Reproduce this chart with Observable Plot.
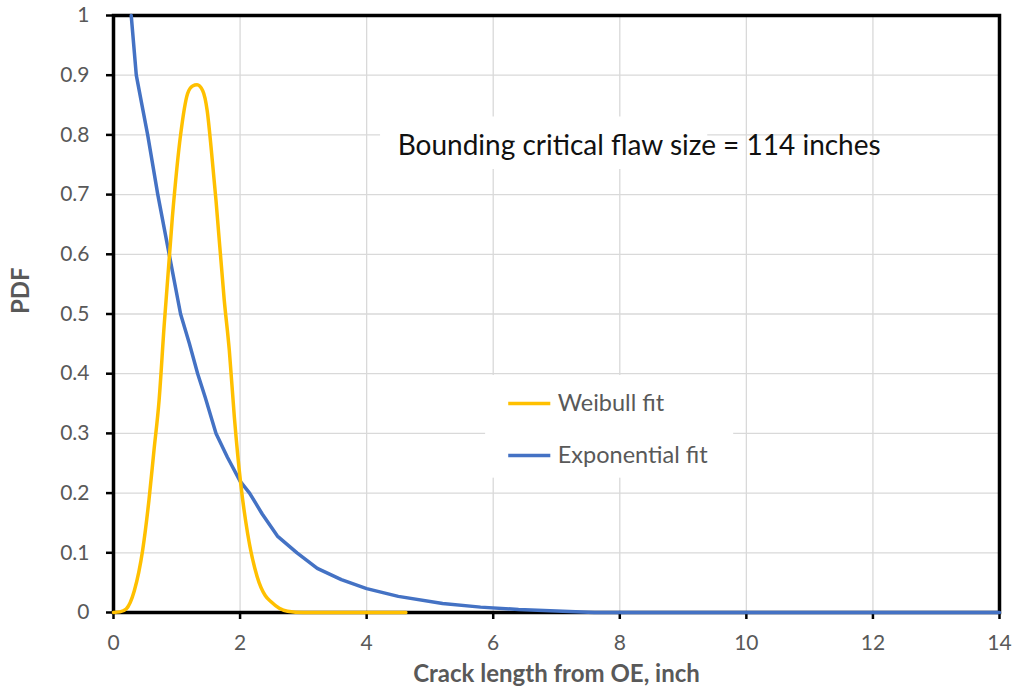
<!DOCTYPE html>
<html>
<head>
<meta charset="utf-8">
<script src="https://cdn.jsdelivr.net/npm/d3@7"></script>
<script src="https://cdn.jsdelivr.net/npm/@observablehq/plot@0.6"></script>
<style>
  html, body { margin: 0; padding: 0; background: #fff; }
  #chart svg { display: block; }
</style>
</head>
<body>
<div id="chart"></div>
<script>
// ---- Data ----
const weibullX = [0, 0.1, 0.2, 0.33, 0.46, 0.56, 0.64, 0.72, 0.80, 0.93, 1.06, 1.17, 1.25, 1.32, 1.41, 1.48, 1.55, 1.62, 1.75, 1.83, 1.91, 2.01, 2.12, 2.27, 2.40, 2.49, 2.62, 2.75, 3.0, 4.62];
const weibullY = [0, 0.001, 0.006, 0.037, 0.104, 0.188, 0.272, 0.355, 0.48, 0.662, 0.80, 0.869, 0.882, 0.884, 0.874, 0.841, 0.77, 0.69, 0.523, 0.439, 0.327, 0.216, 0.132, 0.060, 0.028, 0.018, 0.007, 0.002, 0, 0];

const expX = [0.28, 0.36, 0.45, 0.54, 0.70, 0.88, 1.06, 1.20, 1.33, 1.45, 1.62, 1.80, 2.0, 2.15, 2.35, 2.59, 2.9, 3.22, 3.6, 4.0, 4.5, 5.2, 5.8, 6.4, 7.1, 7.6, 14];
const expY = [1.0, 0.90, 0.85, 0.80, 0.70, 0.60, 0.50, 0.45, 0.40, 0.36, 0.30, 0.26, 0.22, 0.20, 0.165, 0.128, 0.10, 0.074, 0.055, 0.040, 0.027, 0.015, 0.009, 0.005, 0.002, 0, 0];

const seriesNames = ["Weibull fit", "Exponential fit"];
const seriesColors = ["#FFC000", "#4472C4"];

const xTicks = [0, 2, 4, 6, 8, 10, 12, 14];
const yTicks = [0, 0.1, 0.2, 0.3, 0.4, 0.5, 0.6, 0.7, 0.8, 0.9, 1];

const xLabel = "Crack length from OE, inch";
const yLabel = "PDF";
const annotationText = "Bounding critical flaw size = 114 inches";

// ---- Build tables ----
const weibull = weibullX.map((x, i) => ({x, y: weibullY[i]}));
const expo = expX.map((x, i) => ({x, y: expY[i]}));

// annotation / legend placement (data units)
const annotation = [{x: 4.49, y: 0.782, text: annotationText}];
const annotationBox = [{x1: 4.22, x2: 9.39, y1: 0.742, y2: 0.83}];
const legendBox = [{x1: 5.88, x2: 9.8, y1: 0.225, y2: 0.397}];
const legend = seriesNames.map((label, i) => ({label, color: seriesColors[i], y: [0.350, 0.263][i]}));

const chart = Plot.plot({
  width: 1013,
  height: 696,
  marginLeft: 113,
  marginRight: 14,
  marginTop: 15,
  marginBottom: 84,
  style: {fontFamily: "Lato, 'Open Sans', sans-serif", background: "#fff"},
  x: {domain: [0, 14]},
  y: {domain: [0, 1]},
  marks: [
    Plot.gridX(xTicks, {stroke: "#d9d9d9", strokeOpacity: 1, strokeWidth: 1.3}),
    Plot.gridY(yTicks, {stroke: "#d9d9d9", strokeOpacity: 1, strokeWidth: 1.3}),
    Plot.rect(annotationBox, {x1: "x1", x2: "x2", y1: "y1", y2: "y2", fill: "white"}),
    Plot.rect(legendBox, {x1: "x1", x2: "x2", y1: "y1", y2: "y2", fill: "white"}),
    Plot.axisX(xTicks, {tickSize: 7, tickPadding: 16, stroke: "black", strokeWidth: 2.5, fill: "#595959", fontSize: 21, label: null}),
    Plot.axisY(yTicks, {tickSize: 7, tickPadding: 17, stroke: "black", strokeWidth: 2.5, fill: "#595959", fontSize: 21, label: null,
      tickFormat: d => String(+d.toFixed(1))}),
    Plot.frame({stroke: "black", strokeWidth: 3.5}),
    Plot.line(expo, {x: "x", y: "y", stroke: seriesColors[1], strokeWidth: 3.5, strokeLinejoin: "round"}),
    Plot.line(weibull, {x: "x", y: "y", stroke: seriesColors[0], strokeWidth: 3.5, curve: "monotone-x", strokeLinejoin: "round"}),
    Plot.ruleY(legend, {y: "y", x1: 6.245, x2: 6.91, stroke: "color", strokeWidth: 3.5}),
    Plot.text(legend, {x: 7.02, y: "y", text: "label", textAnchor: "start", fontSize: 23.5, fill: "#595959"}),
    Plot.text(annotation, {x: "x", y: "y", text: "text", textAnchor: "start", fontSize: 28, fill: "#111"}),
    Plot.text([xLabel], {frameAnchor: "bottom", dy: 69, text: d => d, fontSize: 24, fontWeight: "bold", fill: "#595959"}),
    Plot.text([yLabel], {frameAnchor: "left", dx: -92, rotate: -90, text: d => d, fontSize: 24, fontWeight: "bold", fill: "#595959"})
  ]
});
document.getElementById("chart").appendChild(chart);
</script>
</body>
</html>
